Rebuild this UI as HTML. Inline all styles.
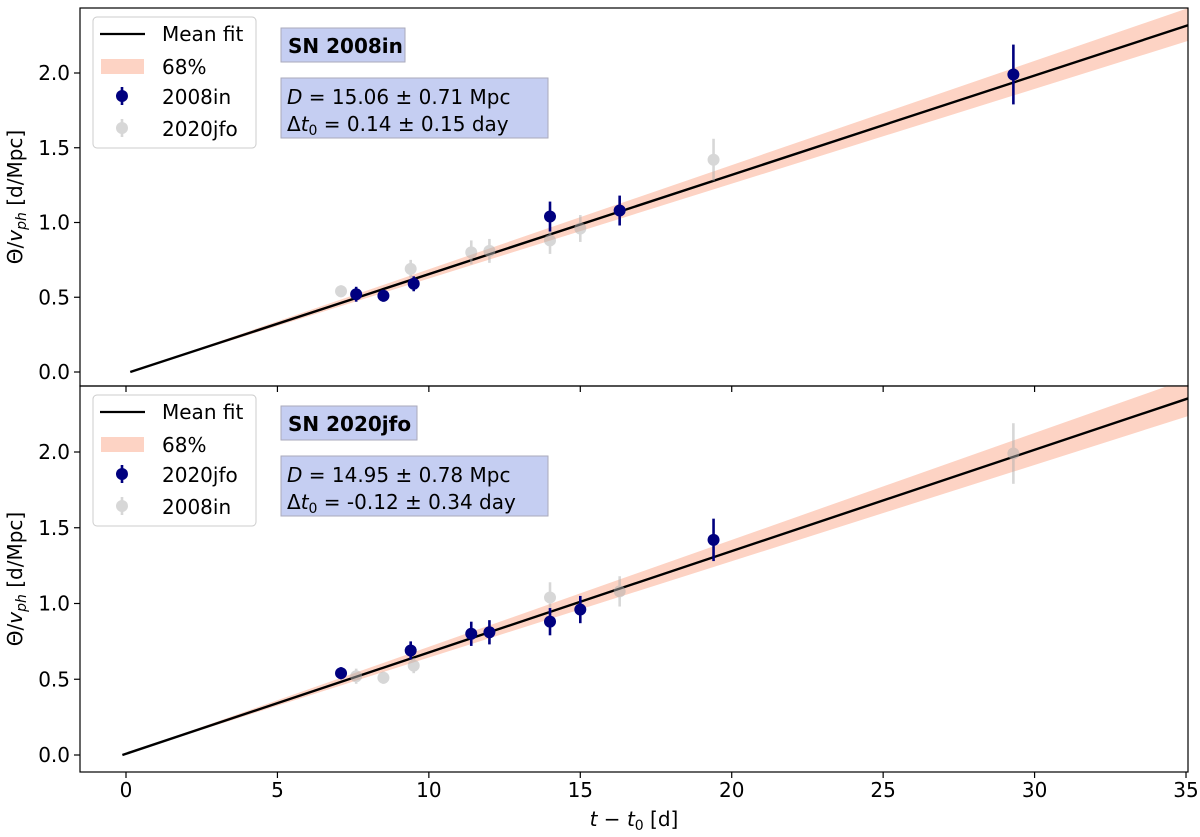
<!DOCTYPE html>
<html><head><meta charset="utf-8"><style>
body{margin:0;background:#fff}
text{font-family:"DejaVu Sans","Liberation Sans",sans-serif;fill:#000}
</style></head><body>
<svg id="chart" width="1200" height="832" xmlns="http://www.w3.org/2000/svg"></svg>
<script>
const tIn=[7.6,8.5,9.5,14.0,16.3,29.3];
const yIn=[0.52,0.51,0.59,1.04,1.08,1.99];
const eIn=[0.05,0.04,0.05,0.10,0.10,0.20];
const tJfo=[7.1,9.4,11.4,12.0,14.0,15.0,19.4];
const yJfo=[0.54,0.69,0.80,0.81,0.88,0.96,1.42];
const eJfo=[0.04,0.06,0.08,0.08,0.09,0.09,0.14];
const fitD=[15.06,14.95];
const fitDErr=[0.71,0.78];
const fitDt=[0.14,-0.12];
const xTicks=[0,5,10,15,20,25,30,35];
const yTicks=[0.0,0.5,1.0,1.5,2.0];

const NS="http://www.w3.org/2000/svg";
const svg=document.getElementById('chart');
function mk(tag,attrs,parent){const e=document.createElementNS(NS,tag);for(const k in attrs)e.setAttribute(k,attrs[k]);(parent||svg).appendChild(e);return e;}
const X0=80,X1=1188;
const xs=t=>126+t*30.286;
const FS=20;
const panels=[
 {top:8,bot:386,y0:372,k:149.5,title:'SN 2008in',main:[tIn,yIn,eIn],other:[tJfo,yJfo,eJfo],mainName:'2008in',otherName:'2020jfo',dstr:'15.06 ± 0.71 Mpc',tstr:'0.14 ± 0.15 day'},
 {top:386,bot:772,y0:755,k:151.5,title:'SN 2020jfo',main:[tJfo,yJfo,eJfo],other:[tIn,yIn,eIn],mainName:'2020jfo',otherName:'2008in',dstr:'14.95 ± 0.78 Mpc',tstr:'-0.12 ± 0.34 day'}
];
panels.forEach((p,pi)=>{
 const ys=v=>p.y0-v*p.k;
 const g=mk('g',{});
 
 
 const cid='clip'+pi;
 const cp=mk('clipPath',{id:cid},g);mk('rect',{x:X0,y:p.top,width:X1-X0,height:p.bot-p.top},cp);
 const pg=mk('g',{'clip-path':'url(#'+cid+')'},g);
 const D=fitD[pi],dE=fitDErr[pi],dt=fitDt[pi];
 const ta=dt,tb=36;
 const band=mk('polygon',{points:`${xs(ta)},${ys(0)} ${xs(tb)},${ys((tb-dt)/(D-dE))} ${xs(tb)},${ys((tb-dt)/(D+dE))}`,fill:'#fdd3c4'},pg);
 
 
 const fl=mk('line',{x1:xs(ta),y1:ys(0),x2:xs(tb),y2:ys((tb-dt)/D),stroke:'#000','stroke-width':2.4},pg);
 
 
 function pts(arr,col,op,name){
  arr[0].forEach((t,i)=>{
   const e=mk('g',{opacity:op},pg);
   
   
   mk('line',{x1:xs(t),x2:xs(t),y1:ys(arr[1][i]-arr[2][i]),y2:ys(arr[1][i]+arr[2][i]),stroke:col,'stroke-width':2.6},e);
   mk('circle',{cx:xs(t),cy:ys(arr[1][i]),r:6,fill:col},e);
  });
 }
 pts(p.other,'#b0b0b0',0.5,p.otherName);
 pts(p.main,'#00007f',1,p.mainName);
 mk('rect',{x:X0,y:p.top,width:X1-X0,height:p.bot-p.top,fill:'none',stroke:'#000','stroke-width':1.2},g);
 yTicks.forEach(v=>{
  mk('line',{x1:X0,x2:X0-6,y1:ys(v),y2:ys(v),stroke:'#000','stroke-width':1.2},g);
  const t=mk('text',{x:X0-10,y:ys(v)+7,'text-anchor':'end','font-size':FS},g);t.textContent=v.toFixed(1);
 });
 xTicks.forEach(v=>{mk('line',{x1:xs(v),x2:xs(v),y1:p.bot,y2:p.bot+6,stroke:'#000','stroke-width':1.2},g);});
 const yl=mk('text',{x:0,y:0,'text-anchor':'middle','font-size':FS,transform:`translate(22,${(p.top+p.bot)/2}) rotate(-90)`},g);
 
 
 yl.innerHTML='Θ/<tspan font-style="italic">v</tspan><tspan font-style="italic" font-size="14" dy="4">ph</tspan><tspan dy="-4"> [d/Mpc]</tspan>';
 const lg=mk('g',{transform:`translate(0,${p.top})`},g);
 
 
 mk('rect',{x:93,y:9,width:163,height:131,rx:4,fill:'#fff',stroke:'#ccc'},lg);
 mk('line',{x1:100,x2:145,y1:26,y2:26,stroke:'#000','stroke-width':2.2},lg);
 mk('rect',{x:101,y:51,width:43,height:15,fill:'#fdd3c4'},lg);
 mk('line',{x1:122,x2:122,y1:79,y2:97,stroke:'#00007f','stroke-width':2.6},lg);
 mk('circle',{cx:122,cy:88,r:6,fill:'#00007f'},lg);
 const og=mk('g',{opacity:0.5},lg);
 mk('line',{x1:122,x2:122,y1:111,y2:129,stroke:'#b0b0b0','stroke-width':2.6},og);
 mk('circle',{cx:122,cy:120,r:6,fill:'#b0b0b0'},og);
 [['Mean fit',33],['68%',66],[p.mainName,96],[p.otherName,128]].forEach(([s,y])=>{const t=mk('text',{x:162,y:y,'font-size':FS},lg);t.textContent=s;});
 const ab=mk('g',{transform:`translate(0,${p.top})`},g);
 
 
 mk('rect',{x:281,y:20,width:p.title.length*12+16,height:34,fill:'#c5cef2',stroke:'#aab'},ab);
 const tt=mk('text',{x:288,y:45,'font-size':FS,'font-weight':'bold'},ab);tt.textContent=p.title;
 mk('rect',{x:281,y:70,width:267,height:60,fill:'#c5cef2',stroke:'#aab'},ab);
 const l1=mk('text',{x:287,y:96,'font-size':FS},ab);l1.innerHTML='<tspan font-style="italic">D</tspan> = '+p.dstr;
 const l2=mk('text',{x:287,y:123,'font-size':FS},ab);l2.innerHTML='Δ<tspan font-style="italic">t</tspan><tspan font-size="14" dy="4">0</tspan><tspan dy="-4"> = '+p.tstr+'</tspan>';
});
xTicks.forEach(v=>{const t=mk('text',{x:xs(v),y:797,'text-anchor':'middle','font-size':FS});t.textContent=v;});
const xl=mk('text',{x:634,y:826,'text-anchor':'middle','font-size':FS});


xl.innerHTML='<tspan font-style="italic">t</tspan> − <tspan font-style="italic">t</tspan><tspan font-size="14" dy="4">0</tspan><tspan dy="-4"> [d]</tspan>';
</script>
</body></html>
